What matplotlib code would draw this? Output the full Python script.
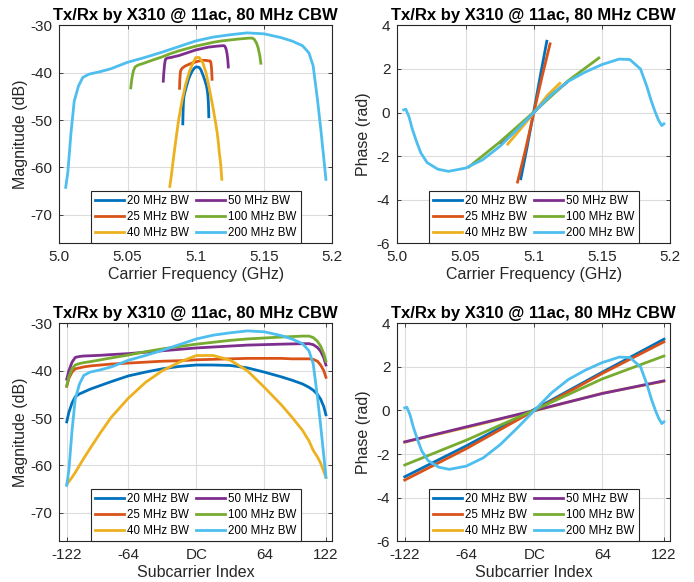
import matplotlib.pyplot as plt
import numpy as np

plt.rcParams['font.family'] = ['Liberation Sans', 'DejaVu Sans']
plt.rcParams['axes.unicode_minus'] = False

# subcarrier indices where values were read
sc = np.array([-122, -120, -117, -114, -110, -106, -100, -90, -80, -64, -48, -32, -16, 0,
               16, 32, 48, 64, 80, 90, 100, 106, 110, 114, 117, 120, 122])
sc_lin = np.array([-122, -64, 0, 64, 122])

bws = [20, 25, 40, 50, 100, 200]
labels = ["20 MHz BW", "25 MHz BW", "40 MHz BW", "50 MHz BW", "100 MHz BW", "200 MHz BW"]
colors = ['#0072BD', '#D95319', '#EDB120', '#7E2F8E', '#77AC30', '#4DBEEE']

# magnitude (dB)
mag20 = [-50.8, -48.8, -46.8, -45.5, -44.9, -44.5, -43.9, -43.1, -42.3, -41.1, -40.3, -39.6, -39.1, -38.8,
         -38.8, -38.9, -39.4, -40.3, -41.3, -42.0, -42.8, -43.5, -44.1, -45.0, -46.0, -47.6, -49.3]
mag25 = [-43.3, -41.6, -40.3, -39.6, -39.4, -39.2, -39.0, -38.8, -38.6, -38.4, -38.2, -38.0, -37.9, -37.7,
         -37.6, -37.5, -37.4, -37.4, -37.4, -37.5, -37.5, -37.5, -37.6, -38.0, -38.8, -40.0, -41.4]
mag40 = [-64.0, -63.4, -62.5, -61.5, -60.0, -58.5, -56.4, -53.0, -49.8, -45.8, -42.5, -40.0, -38.2, -36.8,
         -36.8, -37.8, -40.0, -43.5, -47.2, -49.8, -52.6, -54.8, -56.8, -58.2, -59.5, -61.3, -62.5]
mag50 = [-41.8, -40.0, -38.2, -37.2, -37.0, -36.9, -36.85, -36.75, -36.6, -36.4, -36.1, -35.8, -35.5, -35.2,
         -35.0, -34.8, -34.6, -34.5, -34.4, -34.35, -34.3, -34.3, -34.5, -35.1, -35.9, -37.3, -38.8]
mag100 = [-43.2, -41.3, -39.6, -38.8, -38.5, -38.3, -38.1, -37.7, -37.3, -36.7, -36.0, -35.4, -34.9, -34.4,
          -34.0, -33.6, -33.3, -33.1, -32.9, -32.8, -32.7, -32.7, -33.0, -33.8, -34.8, -36.4, -38.0]
mag200 = [-64.2, -61.0, -52.6, -46.0, -42.8, -41.0, -40.3, -39.8, -39.2, -37.8, -36.8, -35.7, -34.5, -33.3,
          -32.5, -32.0, -31.6, -31.8, -32.6, -33.3, -34.3, -35.8, -38.5, -45.5, -51.5, -58.0, -62.5]

# phase (rad)
ph20 = [-3.04, -1.62, 0.05, 1.76, 3.27]
ph25 = [-3.19, -1.75, 0.0, 1.70, 3.15]
ph40 = [-1.45, -0.78, -0.02, 0.79, 1.34]
ph50 = [-1.44, -0.75, 0.0, 0.78, 1.36]
ph100 = [-2.50, -1.36, 0.02, 1.45, 2.50]
ph200 = [0.12, 0.15, -0.2, -0.75, -1.33, -1.85, -2.3, -2.6, -2.7, -2.55, -2.17, -1.56, -0.8, 0.0,
         0.8, 1.42, 1.85, 2.2, 2.45, 2.43, 2.0, 1.2, 0.55, 0.0, -0.35, -0.6, -0.52]

mags = [mag20, mag25, mag40, mag50, mag100, mag200]
phases = [(sc_lin, ph20), (sc_lin, ph25), (sc_lin, ph40), (sc_lin, ph50), (sc_lin, ph100), (sc, ph200)]

fc = 5.1  # GHz


def freq(k, bw):
    return fc + np.asarray(k) * bw / 256 / 1000


fig = plt.figure(figsize=(6.94, 5.82), dpi=100)
W, H = 694, 582
axw, axh = 273 / W, 218 / H
ax_tl = fig.add_axes([59.3 / W, 1 - 243.3 / H, axw, axh])
ax_tr = fig.add_axes([397.3 / W, 1 - 243.3 / H, axw, axh])
ax_bl = fig.add_axes([59.3 / W, 1 - 541.3 / H, axw, axh])
ax_br = fig.add_axes([397.3 / W, 1 - 541.3 / H, axw, axh])

for bw, m, (k, p), c, lab in zip(bws, mags, phases, colors, labels):
    ax_tl.plot(freq(sc, bw), m, color=c, lw=2, label=lab)
    ax_tr.plot(freq(k, bw), p, color=c, lw=2, label=lab)
    ax_bl.plot(sc, m, color=c, lw=2, label=lab)
    ax_br.plot(k, p, color=c, lw=2, label=lab)

for ax in [ax_tl, ax_tr]:
    ax.set_xlim(5.0, 5.2)
    ax.set_xticks([5.0, 5.05, 5.1, 5.15, 5.2])
    ax.set_xticklabels(["5.0", "5.05", "5.1", "5.15", "5.2"])
    ax.set_xlabel("Carrier Frequency (GHz)", fontsize=11.5, color='#262626', labelpad=2)

for ax in [ax_bl, ax_br]:
    ax.set_xlim(-129, 128)
    ax.set_xticks([-122, -64, 0, 64, 122])
    ax.set_xticklabels(["-122", "-64", "DC", "64", "122"])
    ax.set_xlabel("Subcarrier Index", fontsize=11.5, color='#262626', labelpad=2)

for ax in [ax_tl, ax_bl]:
    ax.set_ylim(-76, -30)
    ax.set_yticks([-70, -60, -50, -40, -30])
    ax.set_ylabel("Magnitude (dB)", fontsize=11.5, color='#262626', labelpad=2)

for ax in [ax_tr, ax_br]:
    ax.set_ylim(-6, 4)
    ax.set_yticks([-6, -4, -2, 0, 2, 4])
    ax.set_ylabel("Phase (rad)", fontsize=11.5, color='#262626', labelpad=4)

for ax in [ax_tl, ax_tr, ax_bl, ax_br]:
    ax.set_title("Tx/Rx by X310 @ 11ac, 80 MHz CBW", fontsize=12, fontweight='bold', pad=4)
    ax.grid(color='#dcdcdc', linewidth=0.8)
    ax.set_axisbelow(True)
    ax.tick_params(direction='in', top=True, right=True, length=3, width=0.6,
                   labelsize=11, colors='#262626', pad=5)
    for s in ax.spines.values():
        s.set_color('#262626')
        s.set_linewidth(0.8)
    leg = ax.legend(loc='lower center', ncol=2, fontsize=8.3, frameon=True, fancybox=False,
                    edgecolor='#262626', framealpha=1, borderaxespad=0.05, handlelength=2.5,
                    handletextpad=0.3, columnspacing=0.6, labelspacing=0.35, borderpad=0.35)
    leg.get_frame().set_linewidth(0.8)

plt.savefig("out.png", dpi=100)
